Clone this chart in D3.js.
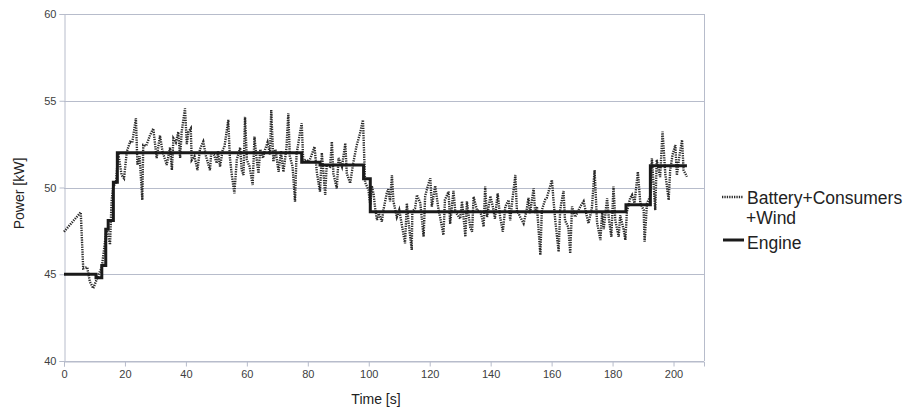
<!DOCTYPE html>
<html>
<head>
<meta charset="utf-8">
<script src="https://cdn.jsdelivr.net/npm/d3@7/dist/d3.min.js"></script>
<style>
  html, body { margin: 0; padding: 0; background: #fff; }
  svg { display: block; font-family: "Liberation Sans", Arial, sans-serif; }
</style>
</head>
<body>
<svg id="chart" width="909" height="412"></svg>
<script>
// ---- data ----
const xTicks = [0, 20, 40, 60, 80, 100, 120, 140, 160, 180, 200];
const yTicks = [40, 45, 50, 55, 60];
const seriesNames = ["Battery+Consumers", "+Wind", "Engine"];

const engineTime = [0, 10.5, 12.4, 13.7, 14.5, 16.2, 17.5, 78, 84, 98.3, 100.5, 184.4, 192.4, 204.4];
const engineValue = [45.0, 44.8, 45.5, 47.6, 48.1, 50.3, 52.0, 51.45, 51.3, 50.5, 48.6, 49.0, 51.25, 51.25];

const batteryTime = [
  0, 5.5, 6.3, 7.6, 8.5, 9.6, 11.3, 12.4, 12.9, 14.0, 15.1, 15.6, 16.2, 17.0, 17.8, 18.9, 19.7, 20.6, 21.7, 22.4,
  23.6, 24.1, 24.8, 25.7, 26.0, 27.0, 28.2, 29.3, 30.4, 31.5, 32.3, 33.7, 34.8, 35.4, 35.9, 36.7, 37.5, 38.1, 38.6, 39.7,
  40.3, 40.8, 41.6, 41.9, 42.8, 43.8, 44.6, 45.7, 46.6, 47.9, 48.3, 49.2, 50.1, 50.5, 51.2, 52.1, 52.6, 53.9, 54.4, 55.0,
  55.9, 56.7, 57.8, 58.3, 58.9, 59.4, 60.0, 60.9, 61.9, 62.5, 63.1, 63.8, 64.4, 65.3, 66.0, 66.8, 67.6, 68.0, 68.7, 69.4,
  70.4, 71.2, 72.0, 73.0, 73.6, 74.1, 75.0, 75.8, 76.3, 77.5, 78.0, 78.5, 79.4, 80.4, 80.9, 82.2, 83.0, 84.0, 84.6, 85.7,
  86.2, 87.3, 87.9, 88.4, 89.5, 90.1, 91.2, 92.3, 92.8, 93.9, 94.9, 96.0, 97.1, 98.1, 98.8, 99.9, 100.5, 101.0, 101.6, 102.1,
  102.7, 103.3, 104.3, 104.8, 105.9, 106.4, 107.0, 107.6, 108.1, 109.2, 110.0, 110.8, 111.9, 112.5, 113.0, 114.1, 114.3, 115.2, 115.8, 116.9,
  118.0, 118.5, 119.4, 120.2, 120.7, 121.8, 122.9, 123.4, 124.5, 125.0, 126.2, 126.7, 127.8, 128.4, 130.0, 130.6, 131.7, 132.2, 133.3, 133.9,
  134.4, 135.5, 136.6, 137.1, 137.7, 138.2, 138.8, 139.9, 140.7, 141.4, 142.3, 143.1, 144.0, 144.8, 145.9, 146.4, 147.0, 148.1, 148.6, 149.7,
  150.8, 151.8, 152.4, 152.9, 154.1, 154.6, 155.2, 156.3, 156.8, 157.9, 158.4, 158.9, 160.1, 160.6, 161.2, 162.3, 162.8, 163.9, 164.4, 165.5,
  166.1, 166.7, 167.7, 168.3, 169.4, 170.5, 171.6, 172.1, 173.2, 174.1, 174.9, 176.0, 176.6, 177.1, 178.2, 178.8, 179.6, 180.3, 180.9, 182.0,
  182.5, 183.6, 184.2, 184.7, 185.8, 186.4, 187.2, 188.3, 189.1, 190.2, 190.5, 191.3, 192.4, 192.9, 194.0, 194.5, 195.6, 196.4, 197.3, 198.4,
  198.9, 199.7, 200.6, 201.1, 202.0, 202.8, 203.3, 204.4
];
const batteryValue = [
  47.45, 48.57, 45.34, 45.4, 44.57, 44.19, 44.96, 45.4, 46.1, 47.65, 46.7, 49.18, 50.14, 50.2, 51.97, 50.72, 50.53, 52.06, 52.64, 52.6,
  53.99, 51.3, 51.8, 49.28, 52.45, 52.4, 53.0, 53.4, 51.7, 53.0, 52.1, 51.3, 52.3, 51.0, 52.83, 52.6, 53.2, 51.7, 53.2, 54.56,
  52.5, 53.2, 53.4, 51.58, 51.8, 51.0, 52.2, 52.64, 51.8, 51.0, 52.0, 51.9, 51.4, 52.1, 51.2, 52.2, 52.3, 53.9, 51.8, 50.8,
  49.66, 51.6, 52.3, 51.0, 50.72, 54.08, 51.6, 51.2, 50.14, 52.93, 51.8, 50.82, 52.2, 51.7, 52.2, 52.6, 51.9, 54.47, 51.49, 52.2,
  50.9, 52.1, 50.9, 52.3, 54.28, 51.8, 51.2, 49.18, 51.9, 53.22, 53.7, 51.5, 51.6, 51.5, 51.7, 52.35, 50.82, 49.76, 52.0, 49.57,
  51.3, 51.2, 52.64, 50.8, 49.95, 51.7, 51.2, 52.55, 50.8, 50.24, 51.4, 52.4, 53.1, 53.89, 50.3, 49.86, 48.99, 50.1, 49.6, 48.8,
  48.13, 48.5, 48.03, 48.7, 49.66, 49.9, 49.2, 50.72, 49.2, 48.3, 48.7, 47.9, 46.78, 49.09, 48.1, 46.4, 48.6, 48.8, 49.57, 49.1,
  47.16, 49.5, 50.1, 50.53, 48.9, 50.1, 48.7, 48.3, 47.26, 49.3, 49.76, 47.9, 49.8, 48.6, 48.2, 49.2, 47.16, 49.2, 47.7, 47.45,
  49.47, 48.7, 48.6, 48.3, 47.74, 50.05, 48.3, 49.5, 48.9, 48.2, 49.66, 48.3, 47.45, 48.9, 49.28, 48.1, 49.1, 50.72, 48.7, 48.3,
  47.93, 48.7, 49.4, 48.5, 49.95, 48.5, 48.9, 46.11, 48.7, 49.3, 49.4, 49.7, 50.43, 49.3, 48.1, 46.3, 48.7, 49.8, 48.1, 47.7,
  46.2, 48.9, 48.3, 48.5, 48.9, 49.2, 48.3, 47.93, 48.8, 51.0, 48.0, 46.97, 48.6, 47.6, 49.38, 48.2, 47.16, 50.05, 48.1, 47.16,
  48.4, 47.6, 46.97, 48.6, 49.4, 49.57, 49.1, 50.91, 49.1, 48.7, 46.88, 49.1, 49.5, 51.68, 48.7, 51.6, 50.6, 53.22, 50.8, 49.28,
  51.0, 51.9, 52.45, 50.7, 51.9, 52.74, 51.0, 50.62
];

// ---- layout ----
const svg = d3.select("#chart");
const plotLeft = 64, plotRight = 704, plotTop = 14, plotBottom = 361;
const gridColor = "#b7bccb";
const textColor = "#404040";

const x = d3.scaleLinear().domain([0, 210]).range([plotLeft, plotRight]);
const y = d3.scaleLinear().domain([40, 60]).range([plotBottom, plotTop]);

// grid lines
svg.append("g").selectAll("line").data(yTicks).join("line")
  .attr("x1", plotLeft).attr("x2", plotRight)
  .attr("y1", d => Math.round(y(d)) + 0.5).attr("y2", d => Math.round(y(d)) + 0.5)
  .attr("stroke", gridColor).attr("stroke-width", 1);

// right border
svg.append("line")
  .attr("x1", plotRight + 0.5).attr("x2", plotRight + 0.5)
  .attr("y1", plotTop).attr("y2", plotBottom)
  .attr("stroke", gridColor).attr("stroke-width", 1);

// axes
const xAxis = d3.axisBottom(x).tickValues(xTicks).tickSize(5).tickPadding(4).tickFormat(d3.format("d"));
const gx = svg.append("g").attr("transform", `translate(0,${Math.round(y(40)) + 0.5})`).call(xAxis);
const yAxis = d3.axisLeft(y).tickValues(yTicks).tickSize(5).tickPadding(3).tickFormat(d3.format("d"));
const gy = svg.append("g").attr("transform", `translate(${plotLeft + 0.5},0)`).call(yAxis);
[gx, gy].forEach(g => {
  g.select(".domain").attr("stroke", gridColor);
  g.selectAll(".tick line").attr("stroke", gridColor);
  g.selectAll(".tick text").attr("fill", textColor)
    .style("font-family", "'Liberation Sans', Arial, sans-serif").style("font-size", "11px");
});

// axis titles
svg.append("text").attr("x", (plotLeft + plotRight) / 2 - 8).attr("y", 404)
  .attr("text-anchor", "middle").attr("fill", "#222").style("font-size", "14px").text("Time [s]");
svg.append("text").attr("transform", `translate(24,${(plotTop + plotBottom) / 2 + 6}) rotate(-90)`)
  .attr("text-anchor", "middle").attr("fill", "#222").style("font-size", "14px").text("Power [kW]");

// lines
const battery = batteryTime.map((t, i) => [t, batteryValue[i]]);
const engine = engineTime.map((t, i) => [t, engineValue[i]]);

const line = d3.line().x(d => x(d[0])).y(d => y(d[1]));
const stepLine = d3.line().x(d => x(d[0])).y(d => y(d[1])).curve(d3.curveStepAfter);

svg.append("path").datum(battery)
  .attr("d", line).attr("fill", "none")
  .attr("stroke", "#2a2a2a").attr("stroke-width", 2.4)
  .attr("stroke-dasharray", "1.3,1.1");

svg.append("path").datum(engine)
  .attr("d", stepLine).attr("fill", "none")
  .attr("stroke", "#1a1a1a").attr("stroke-width", 3);

// legend
const lg = svg.append("g");
lg.append("line").attr("x1", 722).attr("x2", 743).attr("y1", 197).attr("y2", 197)
  .attr("stroke", "#2a2a2a").attr("stroke-width", 2.4).attr("stroke-dasharray", "1.3,1.1");
lg.append("line").attr("x1", 723).attr("x2", 744).attr("y1", 240).attr("y2", 240)
  .attr("stroke", "#1a1a1a").attr("stroke-width", 3);
lg.append("text").attr("x", 747).attr("y", 204).attr("fill", "#222").style("font-size", "17.5px").text(seriesNames[0]);
lg.append("text").attr("x", 746).attr("y", 224).attr("fill", "#222").style("font-size", "17.5px").text(seriesNames[1]);
lg.append("text").attr("x", 747).attr("y", 249).attr("fill", "#222").style("font-size", "17.5px").text(seriesNames[2]);
</script>
</body>
</html>
